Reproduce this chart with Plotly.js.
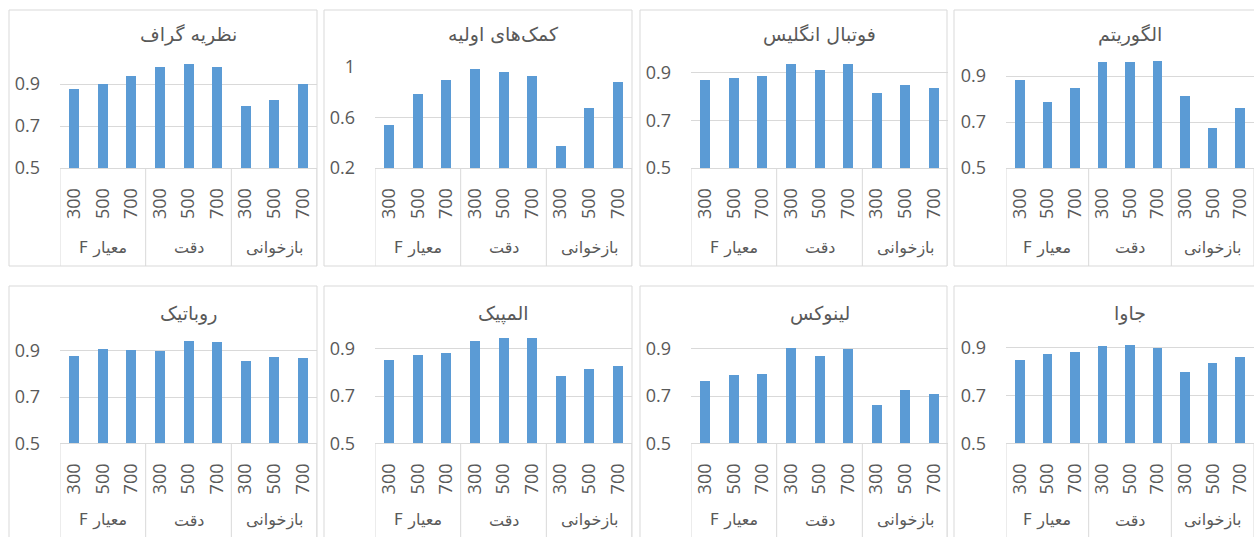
<!DOCTYPE html>
<html>
<head>
<meta charset="utf-8">
<script src="https://cdn.plot.ly/plotly-3.0.1.min.js"></script>
<style>html,body{margin:0;padding:0;background:#fff;}#chart{width:1254px;height:537px;}</style>
</head>
<body>
<div id="chart"></div>
<script>
// ---------- data ----------
const groups = ['معیار F', 'دقت', 'بازخوانی'];
const sizes = ['300', '500', '700'];
const titles = ['نظریه گراف', 'کمک‌های اولیه', 'فوتبال انگلیس', 'الگوریتم',
                'روباتیک', 'المپیک', 'لینوکس', 'جاوا'];

const graphTheory     = [0.878, 0.900, 0.938, 0.982, 0.996, 0.983, 0.794, 0.825, 0.898];
const firstAid        = [0.543, 0.789, 0.900, 0.987, 0.960, 0.926, 0.377, 0.673, 0.879];
const englishFootball = [0.869, 0.878, 0.885, 0.936, 0.914, 0.936, 0.814, 0.847, 0.838];
const algorithm       = [0.881, 0.788, 0.849, 0.963, 0.961, 0.965, 0.813, 0.672, 0.760];
const robotics        = [0.876, 0.906, 0.903, 0.899, 0.942, 0.939, 0.855, 0.873, 0.871];
const olympics        = [0.852, 0.875, 0.882, 0.934, 0.944, 0.944, 0.783, 0.815, 0.827];
const linux           = [0.762, 0.790, 0.793, 0.903, 0.869, 0.899, 0.661, 0.724, 0.708];
const java            = [0.849, 0.871, 0.879, 0.907, 0.910, 0.899, 0.797, 0.835, 0.860];

const yTicksA = [0.5, 0.7, 0.9];
const yTicksB = [0.2, 0.6, 1];
const yTickTextA = ['0.5', '0.7', '0.9'];
const yTickTextB = ['0.2', '0.6', '1'];

const seriesList = [graphTheory, firstAid, englishFootball, algorithm, robotics, olympics, linux, java];
const tickSets = [[yTicksA, yTickTextA], [yTicksB, yTickTextB], [yTicksA, yTickTextA], [yTicksA, yTickTextA],
                  [yTicksA, yTickTextA], [yTicksA, yTickTextA], [yTicksA, yTickTextA], [yTicksA, yTickTextA]];
const yRanges = [[0.5, 1.0], [0.2, 1.0], [0.5, 0.95], [0.5, 0.97],
                 [0.5, 0.96], [0.5, 0.95], [0.5, 0.95], [0.5, 0.945]];

// ---------- layout geometry (pixels) ----------
const W = 1254, H = 537;
const px = v => v / W;
const py = v => 1 - v / H;
const frameLeft = [9, 324, 640, 954];
const frameRight = [317, 632, 947, 1262];
const rowTop = [10, 286];
const rowBottom = [266, 542];
const plotLeft = [60, 375, 691, 1006];
const plotWidth = 257;
const plotBottom = [168, 443.3];
const plotTop = [63, 67, 61, 60, 337, 337, 337, 336.5];
const titleY = [35, 313];
const groupY = [248, 520];

const barColor = '#5B9BD5';
const gridColor = '#D9D9D9';
const textColor = '#595959';
const numFont = 'Open Sans, Liberation Sans, sans-serif';
const faFont = 'DejaVu Sans, sans-serif';
const RLE = '\u202B', PDF = '\u202C';   // right-to-left embedding for Persian labels

// category labels
const catLabels = [];
groups.forEach(g => sizes.forEach(s => catLabels.push(s)));
const catIdx = catLabels.map((_, i) => i);
const groupCenters = groups.map((_, gi) => gi * sizes.length + (sizes.length - 1) / 2);
const dividers = groups.map((_, gi) => gi * sizes.length - 0.5).concat([groups.length * sizes.length - 0.5]);

const traces = [];
const layout = {
  width: W, height: H,
  margin: {l: 0, r: 0, t: 0, b: 0},
  paper_bgcolor: '#ffffff',
  plot_bgcolor: 'rgba(0,0,0,0)',
  showlegend: false,
  bargap: 0,
  annotations: [],
  shapes: []
};

seriesList.forEach((vals, i) => {
  const row = Math.floor(i / 4), col = i % 4;
  const n = i === 0 ? '' : String(i + 1);
  traces.push({
    type: 'bar',
    x: catIdx,
    y: vals,
    width: 0.35,
    marker: {color: barColor, line: {width: 0}},
    xaxis: 'x' + n, yaxis: 'y' + n,
    hoverinfo: 'skip'
  });
  const L = plotLeft[col];
  layout['xaxis' + n] = {
    domain: [px(L), px(L + plotWidth)],
    anchor: 'y' + n,
    range: [-0.5, catLabels.length - 0.5],
    tickmode: 'array',
    tickvals: catIdx,
    ticktext: catLabels,
    tickangle: -90,
    tickfont: {family: numFont, size: 18, color: textColor},
    ticks: '',
    ticklabelstandoff: 12,
    showgrid: false,
    zeroline: false,
    showline: true,
    linecolor: gridColor,
    linewidth: 1,
    fixedrange: true
  };
  layout['yaxis' + n] = {
    domain: [py(plotBottom[row]), py(plotTop[i])],
    anchor: 'x' + n,
    range: yRanges[i],
    tickmode: 'array',
    tickvals: tickSets[i][0],
    ticktext: tickSets[i][1],
    tickfont: {family: numFont, size: 18, color: textColor},
    ticks: '',
    ticklabelstandoff: 19,
    showgrid: true,
    gridcolor: gridColor,
    gridwidth: 1,
    zeroline: false,
    showline: false,
    fixedrange: true
  };
  // panel frame
  layout.shapes.push({
    type: 'rect', xref: 'paper', yref: 'paper',
    x0: px(frameLeft[col]), x1: px(frameRight[col]),
    y0: py(rowBottom[row]), y1: py(rowTop[row]),
    line: {color: gridColor, width: 1}, fillcolor: 'rgba(0,0,0,0)', layer: 'below'
  });
  // category-axis dividers
  dividers.forEach(d => {
    layout.shapes.push({
      type: 'line', xref: 'x' + n, yref: 'paper',
      x0: d, x1: d, y0: py(plotBottom[row]), y1: py(rowBottom[row]),
      line: {color: gridColor, width: 1}
    });
  });
  // group labels
  groups.forEach((g, gi) => {
    layout.annotations.push({
      text: RLE + g + PDF, xref: 'x' + n, yref: 'paper',
      x: groupCenters[gi], y: py(groupY[row]),
      xanchor: 'center', yanchor: 'middle', showarrow: false,
      font: {family: faFont, size: 16, color: textColor}
    });
  });
  // panel title
  layout.annotations.push({
    text: titles[i], xref: 'x' + n, yref: 'paper',
    x: (catLabels.length - 1) / 2, y: py(titleY[row]),
    xanchor: 'center', yanchor: 'middle', showarrow: false,
    font: {family: faFont, size: 19, color: textColor}
  });
});

Plotly.newPlot('chart', traces, layout, {staticPlot: true, displayModeBar: false});
</script>
</body>
</html>
